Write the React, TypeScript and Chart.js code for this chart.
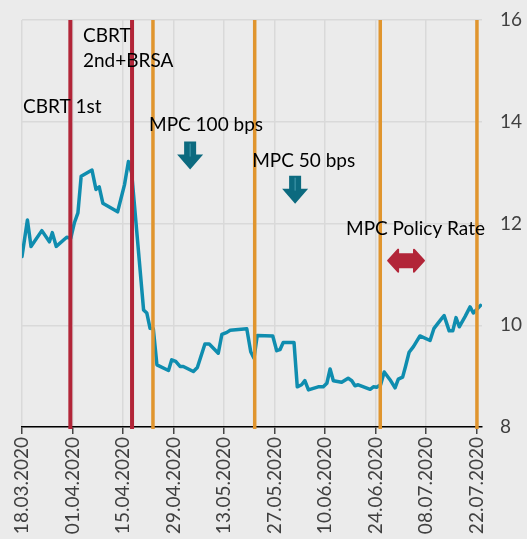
import React, { useEffect, useRef } from "react";
import { Chart, registerables } from "chart.js";

Chart.register(...registerables);

// X axis: days since 18.03.2020
const tickDays = [0, 14, 28, 42, 56, 70, 84, 98, 112, 126];
const tickLabels = [
  "18.03.2020", "01.04.2020", "15.04.2020", "29.04.2020", "13.05.2020",
  "27.05.2020", "10.06.2020", "24.06.2020", "08.07.2020", "22.07.2020",
];
const xMin = 0;
const xMax = 127.5;

// Series (day offset, value)
const days = [
  0, 1.5, 2.5, 5.5, 7.6, 8.4, 9.5, 12.4, 13.5, 14.5, 15.5, 16.4, 19.4, 20.5, 21.4, 22.4,
  26.5, 28.4, 29.5, 30.4, 33.7, 34.6, 35.5, 36.4, 37.4, 40.6, 41.5, 42.6, 43.8, 44.7,
  47.5, 48.6, 50.7, 51.9, 54.4, 55.4, 56.8, 57.7, 62.3, 63.4, 64.3, 65.2, 69.5, 70.6,
  71.5, 72.4, 75.4, 76.3, 77.5, 78.4, 79.4, 82.1, 83.5, 84.5, 85.4, 86.3, 88.6, 90.4,
  91.4, 92.3, 93.2, 96.5, 97.4, 98.3, 99.4, 100.4, 102, 103.4, 104.3, 105.5, 106.3,
  107.3, 108.5, 110.3, 113.1, 114.2, 116.3, 117, 118.4, 119.4, 120.3, 121.2, 122.8,
  124.2, 125.1, 127.1,
];
const rates = [
  11.35, 12.07, 11.55, 11.86, 11.64, 11.82, 11.55, 11.73, 11.71, 12.01, 12.21, 12.93,
  13.05, 12.67, 12.72, 12.4, 12.23, 12.76, 13.22, 12.99, 10.3, 10.24, 9.94, 9.93, 9.22,
  9.11, 9.32, 9.29, 9.19, 9.19, 9.09, 9.17, 9.63, 9.63, 9.45, 9.82, 9.86, 9.9, 9.93,
  9.48, 9.35, 9.8, 9.79, 9.5, 9.52, 9.66, 9.66, 8.79, 8.83, 8.91, 8.73, 8.79, 8.79,
  8.86, 9.14, 8.91, 8.88, 8.96, 8.91, 8.81, 8.83, 8.74, 8.79, 8.78, 8.83, 9.08, 8.93,
  8.77, 8.94, 8.98, 9.19, 9.47, 9.58, 9.79, 9.7, 9.94, 10.13, 10.19, 9.89, 9.89, 10.15,
  9.97, 10.17, 10.36, 10.24, 10.39,
];

// Event lines
const cbrtEventDays = [13.4, 30.5];
const mpcEventDays = [36.3, 64.5, 99.3, 126.1];

// Annotations (anchored in data units)
const noteTexts = ["CBRT", "2nd+BRSA", "CBRT 1st", "MPC 100 bps", "MPC 50 bps", "MPC Policy Rate"];
const noteDays = [16.9, 16.9, 0.3, 35.2, 63.8, 89.8];
const noteLevels = [15.56, 15.07, 14.18, 13.81, 13.12, 11.78];

const downArrowDays = [46.6, 75.7];
const downArrowTops = [13.61, 12.94];
const downArrowTips = [13.06, 12.39];

const doubleArrowFrom = 101.2;
const doubleArrowTo = 111.7;
const doubleArrowLevel = 11.27;

const FONT = "Lato, 'Open Sans', sans-serif";
const LINE_COLOR = "#0f8daf";
const RED = "#b22538";
const ORANGE = "#e0952e";
const TEAL_DARK = "#0c6a7f";

const annotationPlugin = {
  id: "annotations",
  afterDatasetsDraw(chart: any) {
    const { ctx, chartArea, scales } = chart;
    const xs = scales.x;
    const ys = scales.y;
    ctx.save();
    const drawV = (d: number, color: string, w: number) => {
      const px = xs.getPixelForValue(d);
      ctx.beginPath();
      ctx.strokeStyle = color;
      ctx.lineWidth = w;
      ctx.moveTo(px, chartArea.top);
      ctx.lineTo(px, chartArea.bottom + 2);
      ctx.stroke();
    };
    cbrtEventDays.forEach((d) => drawV(d, RED, 4));
    mpcEventDays.forEach((d) => drawV(d, ORANGE, 3.5));

    ctx.fillStyle = "#000";
    ctx.font = `19px ${FONT}`;
    ctx.textAlign = "left";
    ctx.textBaseline = "alphabetic";
    noteTexts.forEach((t, i) => {
      ctx.fillText(t, xs.getPixelForValue(noteDays[i]), ys.getPixelForValue(noteLevels[i]));
    });

    downArrowDays.forEach((d, i) => {
      const cx = xs.getPixelForValue(d);
      const yt = ys.getPixelForValue(downArrowTops[i]);
      const yb = ys.getPixelForValue(downArrowTips[i]);
      const sw = 6, hw = 13, hh = 15;
      ctx.fillStyle = TEAL_DARK;
      ctx.beginPath();
      ctx.moveTo(cx - sw, yt);
      ctx.lineTo(cx + sw, yt);
      ctx.lineTo(cx + sw, yb - hh);
      ctx.lineTo(cx + hw, yb - hh);
      ctx.lineTo(cx, yb);
      ctx.lineTo(cx - hw, yb - hh);
      ctx.lineTo(cx - sw, yb - hh);
      ctx.closePath();
      ctx.fill();
      ctx.strokeStyle = "rgba(120,200,215,0.55)";
      ctx.lineWidth = 1;
      ctx.beginPath();
      ctx.moveTo(cx, yt + 2);
      ctx.lineTo(cx, yb - hh + 2);
      ctx.stroke();
    });

    {
      const x1 = xs.getPixelForValue(doubleArrowFrom);
      const x2 = xs.getPixelForValue(doubleArrowTo);
      const cy = ys.getPixelForValue(doubleArrowLevel);
      const hl = 11, hh = 11, sh = 6.5;
      ctx.fillStyle = RED;
      ctx.strokeStyle = RED;
      ctx.lineWidth = 2;
      ctx.lineJoin = "round";
      ctx.beginPath();
      ctx.moveTo(x1 + 1, cy);
      ctx.lineTo(x1 + hl, cy - hh);
      ctx.lineTo(x1 + hl, cy - sh);
      ctx.lineTo(x2 - hl, cy - sh);
      ctx.lineTo(x2 - hl, cy - hh);
      ctx.lineTo(x2 - 1, cy);
      ctx.lineTo(x2 - hl, cy + hh);
      ctx.lineTo(x2 - hl, cy + sh);
      ctx.lineTo(x1 + hl, cy + sh);
      ctx.lineTo(x1 + hl, cy + hh);
      ctx.closePath();
      ctx.fill();
      ctx.stroke();
    }
    ctx.restore();
  },
};

export default function App() {
  const canvasRef = useRef<HTMLCanvasElement | null>(null);

  useEffect(() => {
    if (!canvasRef.current) return;
    const chart = new Chart(canvasRef.current, {
      type: "line",
      data: {
        datasets: [
          {
            data: days.map((d, i) => ({ x: d, y: rates[i] })),
            borderColor: LINE_COLOR,
            borderWidth: 3.5,
            pointRadius: 0,
            tension: 0,
            borderJoinStyle: "round",
            borderCapStyle: "round",
          },
        ],
      },
      options: {
        animation: false,
        responsive: false,
        devicePixelRatio: 1,
        layout: { padding: { left: 22, top: 20, right: 0, bottom: 0 } },
        plugins: { legend: { display: false }, tooltip: { enabled: false } },
        scales: {
          x: {
            type: "linear",
            min: xMin,
            max: xMax,
            afterBuildTicks: (s: any) => {
              s.ticks = tickDays.map((v) => ({ value: v }));
            },
            afterFit: (s: any) => {
              s.height = 112;
              s.paddingLeft = 0;
              s.paddingRight = 0;
            },
            ticks: {
              autoSkip: false,
              maxRotation: 90,
              minRotation: 90,
              padding: 3,
              color: "#404040",
              font: { family: FONT, size: 19 },
              callback: (v: any) => {
                const i = tickDays.indexOf(Number(v));
                return i >= 0 ? tickLabels[i] : "";
              },
            },
            grid: { color: "#d9d9d9", lineWidth: 1.5, tickColor: "#444", tickLength: 7 },
            border: { color: "#000", width: 1.5 },
          },
          y: {
            position: "right",
            min: 8,
            max: 16,
            afterFit: (s: any) => {
              s.width = 45;
              s.paddingTop = 0;
              s.paddingBottom = 0;
            },
            ticks: {
              stepSize: 2,
              padding: 18,
              color: "#404040",
              font: { family: FONT, size: 19 },
            },
            grid: { color: "#d9d9d9", lineWidth: 1.5, drawTicks: false },
            border: { display: false },
          },
        },
      },
      plugins: [annotationPlugin],
    } as any);
    return () => chart.destroy();
  }, []);

  return (
    <div
      style={{
        position: "absolute",
        left: 0,
        top: 0,
        width: 527,
        height: 539,
        background: "#ebebeb",
      }}
    >
      <canvas ref={canvasRef} width={527} height={539} />
    </div>
  );
}
